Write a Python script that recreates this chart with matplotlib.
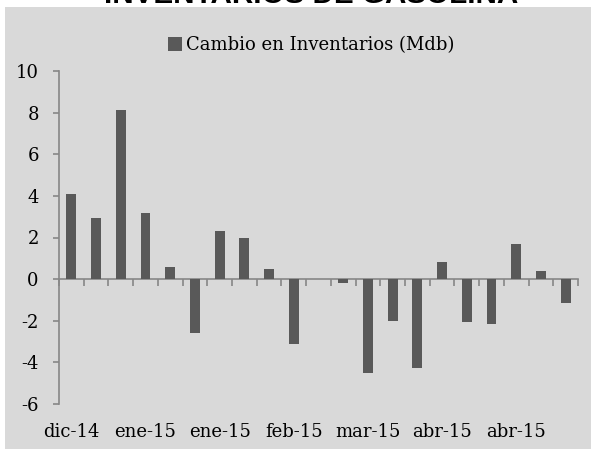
import numpy as np
import matplotlib.pyplot as plt
from matplotlib.patches import Rectangle

# weekly change in gasoline inventories (Mdb), dic-14 .. abr-15
values = [4.07, 2.95, 8.11, 3.16, 0.58, -2.60, 2.33, 1.96, 0.47, -3.14,
          0.0, -0.19, -4.49, -2.03, -4.28, 0.80, -2.08, -2.16, 1.70, 0.38, -1.15]
label_pos = [0, 3, 6, 9, 12, 15, 18]
labels = ['dic-14', 'ene-15', 'ene-15', 'feb-15', 'mar-15', 'abr-15', 'abr-15']
yticks = [-6, -4, -2, 0, 2, 4, 6, 8, 10]

W, H = 593, 454
fig = plt.figure(figsize=(W / 100, H / 100), dpi=100)
fig.patch.set_facecolor('white')

# grey chart area
fig.patches.append(Rectangle((5 / W, (H - 449) / H), 586 / W, 442 / H,
                             transform=fig.transFigure, facecolor='#d9d9d9',
                             edgecolor='none', zorder=-5))

# title, mostly cut off at the top of the picture
fig.text(311 / W, (H - 3) / H, 'INVENTARIOS DE GASOLINA', ha='center', va='baseline',
         fontsize=21.3, fontweight='bold', family='Liberation Sans', color='black')

ax = fig.add_axes([59 / W, (H - 404) / H, 519 / W, 333 / H])
ax.set_facecolor('none')
ax.set_zorder(2)

x = np.arange(len(values))
bars = ax.bar(x, values, width=0.4, color='#595959', zorder=3,
              label='Cambio en Inventarios (Mdb)')

ax.set_xlim(-0.5, len(values) - 0.5)
ax.set_ylim(-6, 10)

axcol = '#878787'
for s in ['top', 'right']:
    ax.spines[s].set_visible(False)
ax.spines['left'].set_color(axcol)
ax.spines['bottom'].set_color(axcol)
ax.spines['left'].set_linewidth(1.2)
ax.spines['bottom'].set_linewidth(1.2)
ax.spines['bottom'].set_position(('data', 0))

ax.set_yticks(yticks)
ax.set_yticklabels([str(v) for v in yticks], family='DejaVu Serif', fontsize=13)
ax.tick_params(axis='y', direction='out', length=4.5, width=1.2, color=axcol, pad=10)

ax.set_xticks(np.arange(len(values) + 1) - 0.5)
ax.set_xticklabels([])
ax.tick_params(axis='x', direction='out', length=5, width=1.2, color=axcol)

for p, t in zip(label_pos, labels):
    ax.text(p, -0.084, t, transform=ax.get_xaxis_transform(), ha='center', va='center',
            family='DejaVu Serif', fontsize=13)

leg = ax.legend(loc='center', bbox_to_anchor=(311 / W, (H - 45) / H),
                bbox_transform=fig.transFigure, frameon=False,
                prop={'family': 'DejaVu Serif', 'size': 13},
                handlelength=0.8, handleheight=0.8, handletextpad=0.2)

fig.savefig('out.png', dpi=100, facecolor='white')
